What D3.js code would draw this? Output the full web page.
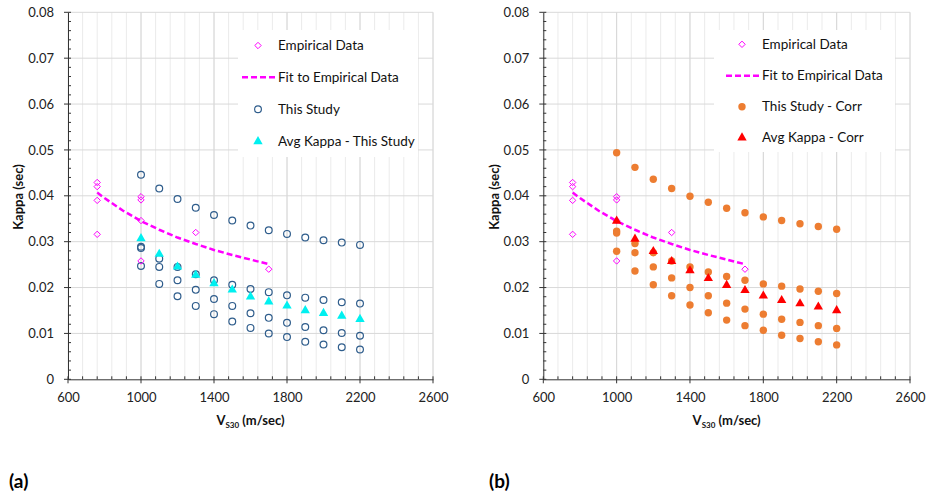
<!DOCTYPE html>
<html>
<head>
<meta charset="utf-8">
<script src="https://cdn.jsdelivr.net/npm/d3@7"></script>
<style>
  html, body { margin: 0; padding: 0; background: #fff; }
  svg { display: block; }
  text { font-family: Lato, "Open Sans", sans-serif; }
</style>
</head>
<body>
<svg id="chart" width="927" height="497"></svg>
<script>
// ---------- DATA ----------
const xTicks = [600, 1000, 1400, 1800, 2200, 2600];
const yTicks = [0, 0.01, 0.02, 0.03, 0.04, 0.05, 0.06, 0.07, 0.08];
const yTickLabels = ["0", "0.01", "0.02", "0.03", "0.04", "0.05", "0.06", "0.07", "0.08"];

// Empirical data (same in both panels)
const empiricalV = [760, 760, 760, 760, 1000, 1000, 1000, 1000, 1300, 1700];
const empiricalK = [0.0429, 0.0420, 0.0390, 0.0316, 0.0398, 0.0391, 0.0346, 0.0258, 0.0320, 0.0240];

// Fit to empirical data
const fitV = [760, 800, 900, 1000, 1100, 1200, 1300, 1400, 1500, 1600, 1700];
const fitK = [0.0407, 0.0395, 0.0368, 0.0345, 0.0326, 0.0309, 0.0295, 0.0282, 0.0271, 0.0261, 0.0251];

// Velocities used by this study
const studyV = [1000, 1100, 1200, 1300, 1400, 1500, 1600, 1700, 1800, 1900, 2000, 2100, 2200];

// (a) This Study: four kappa estimates per velocity
const studyK1 = [0.0446, 0.0416, 0.0393, 0.0374, 0.0358, 0.0346, 0.0335, 0.0325, 0.0317, 0.0309, 0.0303, 0.0298, 0.0293];
const studyK2 = [0.0289, 0.0263, 0.0245, 0.0229, 0.0216, 0.0206, 0.0197, 0.0190, 0.0183, 0.0178, 0.0173, 0.0168, 0.0165];
const studyK3 = [0.0286, 0.0245, 0.0216, 0.0195, 0.0175, 0.0160, 0.0144, 0.0134, 0.0123, 0.0114, 0.0107, 0.0101, 0.0095];
const studyK4 = [0.0247, 0.0208, 0.0181, 0.0160, 0.0142, 0.0126, 0.0112, 0.0100, 0.0092, 0.0082, 0.0076, 0.0070, 0.0065];
// (a) Avg Kappa - This Study
const avgK = [0.0307, 0.0273, 0.0245, 0.0227, 0.0209, 0.0195, 0.0180, 0.0169, 0.0160, 0.0150, 0.0144, 0.0138, 0.0131];

// (b) This Study - Corr
const corrK1 = [0.0494, 0.0462, 0.0436, 0.0416, 0.0399, 0.0386, 0.0373, 0.0363, 0.0354, 0.0346, 0.0339, 0.0333, 0.0327];
const corrK2 = [0.0323, 0.0296, 0.0276, 0.0258, 0.0245, 0.0234, 0.0224, 0.0216, 0.0208, 0.0203, 0.0197, 0.0192, 0.0187];
const corrK3 = [0.0319, 0.0276, 0.0245, 0.0221, 0.0200, 0.0182, 0.0166, 0.0153, 0.0142, 0.0131, 0.0124, 0.0117, 0.0111];
const corrK4 = [0.0279, 0.0236, 0.0206, 0.0182, 0.0162, 0.0145, 0.0129, 0.0117, 0.0107, 0.0096, 0.0089, 0.0082, 0.0075];
// (b) Avg Kappa - Corr
const avgCorrK = [0.0345, 0.0306, 0.0279, 0.0257, 0.0237, 0.0220, 0.0205, 0.0194, 0.0182, 0.0172, 0.0165, 0.0158, 0.0150];

const legendA = ["Empirical Data", "Fit to Empirical Data", "This Study", "Avg Kappa - This Study"];
const legendB = ["Empirical Data", "Fit to Empirical Data", "This Study - Corr", "Avg Kappa - Corr"];

// ---------- DRAW ----------
const svg = d3.select("#chart");
const MAG = "#ff00ff", BLUE = "#2f5d8c", CYAN = "#00f0f0", ORANGE = "#ed7d31", RED = "#ff0000";

function diamondPath(r) {
  return `M0,${-r}L${r},0L0,${r}L${-r},0Z`;
}
const triPath = d3.symbol().type(d3.symbolTriangle).size(38)();

function panel(opt) {
  const x = d3.scaleLinear().domain([600, 2600]).range(opt.xr);
  const y = d3.scaleLinear().domain([0, 0.08]).range([379.3, 12.3]);
  const g = svg.append("g");

  // minor vertical grid (every 80)
  const minorX = d3.range(600, 2600.1, 80);
  g.selectAll(".mgx").data(minorX).enter().append("line")
    .attr("x1", d => x(d)).attr("x2", d => x(d))
    .attr("y1", y(0)).attr("y2", y(0.08))
    .attr("stroke", "#ebebeb").attr("stroke-width", 1);
  // major vertical grid
  g.selectAll(".gx").data(xTicks.slice(1)).enter().append("line")
    .attr("x1", d => x(d)).attr("x2", d => x(d))
    .attr("y1", y(0)).attr("y2", y(0.08))
    .attr("stroke", "#d6d6d6").attr("stroke-width", 1);
  // major horizontal grid
  g.selectAll(".gy").data(yTicks.slice(1)).enter().append("line")
    .attr("x1", x(600)).attr("x2", x(2600))
    .attr("y1", d => y(d)).attr("y2", d => y(d))
    .attr("stroke", "#d9d9d9").attr("stroke-width", 1);

  // axes
  const axisCol = "#333";
  const xAxis = d3.axisBottom(x).tickValues(xTicks).tickSize(0).tickFormat(d3.format("d")).tickPadding(13);
  const xa = g.append("g").attr("transform", `translate(0,${y(0)})`).call(xAxis);
  xa.select(".domain").attr("stroke", axisCol);
  xa.selectAll("text").attr("font-size", 13).attr("fill", "#222").attr("font-family", "Lato, sans-serif");
  const yAxis = d3.axisLeft(y).tickValues(yTicks).tickSize(0).tickFormat((d, i) => yTickLabels[i]).tickPadding(14);
  const ya = g.append("g").attr("transform", `translate(${x(600)},0)`).call(yAxis);
  ya.select(".domain").attr("stroke", axisCol);
  ya.selectAll("text").attr("font-size", 13).attr("fill", "#222").attr("font-family", "Lato, sans-serif");

  // ticks
  g.selectAll(".tx").data(xTicks).enter().append("line")
    .attr("x1", d => x(d)).attr("x2", d => x(d))
    .attr("y1", y(0) - 3).attr("y2", y(0) + 4).attr("stroke", axisCol);
  g.selectAll(".mtx").data(minorX.filter(v => (v - 600) % 400 !== 0)).enter().append("line")
    .attr("x1", d => x(d)).attr("x2", d => x(d))
    .attr("y1", y(0) - 3).attr("y2", y(0)).attr("stroke", axisCol);
  g.selectAll(".ty").data(yTicks).enter().append("line")
    .attr("x1", x(600) - 4).attr("x2", x(600) + 3)
    .attr("y1", d => y(d)).attr("y2", d => y(d)).attr("stroke", axisCol);
  const minorY = d3.range(0, 0.0801, 0.002).filter((v, i) => i % 5 !== 0);
  g.selectAll(".mty").data(minorY).enter().append("line")
    .attr("x1", x(600)).attr("x2", x(600) + 3)
    .attr("y1", d => y(d)).attr("y2", d => y(d)).attr("stroke", axisCol);

  // axis titles
  const xt = g.append("text").attr("x", (x(600) + x(2600)) / 2).attr("y", 425)
    .attr("text-anchor", "middle").attr("font-weight", "bold").attr("font-size", 13).attr("fill", "#111");
  xt.append("tspan").text("V");
  xt.append("tspan").text("S30").attr("font-size", 8).attr("dy", 3);
  xt.append("tspan").text(" (m/sec)").attr("dy", -3);
  g.append("text").attr("transform", `translate(${opt.ytx},197) rotate(-90)`)
    .attr("text-anchor", "middle").attr("dy", "0.35em").attr("font-weight", "bold")
    .attr("font-size", 13).attr("fill", "#111").text("Kappa (sec)");

  // fit line
  const line = d3.line().x((d, i) => x(fitV[i])).y(d => y(d));
  g.append("path").datum(fitK).attr("d", line).attr("fill", "none")
    .attr("stroke", MAG).attr("stroke-width", 2.5).attr("stroke-dasharray", "6,3");

  // study points
  opt.studySeries.forEach(series => {
    g.selectAll(null).data(series).enter().append("circle")
      .attr("cx", (d, i) => x(studyV[i])).attr("cy", d => y(d))
      .attr("r", opt.filled ? 3.7 : 3.4)
      .attr("fill", opt.filled ? ORANGE : "none")
      .attr("stroke", opt.filled ? "none" : BLUE).attr("stroke-width", 1.2);
  });
  // empirical diamonds
  g.selectAll(null).data(empiricalK).enter().append("path")
    .attr("d", diamondPath(3.2))
    .attr("transform", (d, i) => `translate(${x(empiricalV[i])},${y(d)})`)
    .attr("fill", "none").attr("stroke", MAG).attr("stroke-width", 1);
  // average triangles
  g.selectAll(null).data(opt.avg).enter().append("path")
    .attr("d", triPath)
    .attr("transform", (d, i) => `translate(${x(studyV[i])},${y(d)})`)
    .attr("fill", opt.avgColor);

  // legend
  const L = opt.legend;
  g.append("rect").attr("x", L.x0).attr("y", 30).attr("width", L.x1 - L.x0).attr("height", L.h)
    .attr("fill", "#fff");
  opt.legendNames.forEach((name, i) => {
    const cy = L.rows[i];
    if (i === 0) {
      g.append("path").attr("d", diamondPath(3.2)).attr("transform", `translate(${L.sx},${cy})`)
        .attr("fill", "none").attr("stroke", MAG).attr("stroke-width", 1);
    } else if (i === 1) {
      g.append("line").attr("x1", L.sx - 16).attr("x2", L.tx - 2).attr("y1", cy).attr("y2", cy)
        .attr("stroke", MAG).attr("stroke-width", 2.5).attr("stroke-dasharray", "6,3");
    } else if (i === 2) {
      g.append("circle").attr("cx", L.sx).attr("cy", cy).attr("r", opt.filled ? 3.7 : 3.4)
        .attr("fill", opt.filled ? ORANGE : "none")
        .attr("stroke", opt.filled ? "none" : BLUE).attr("stroke-width", 1.2);
    } else {
      g.append("path").attr("d", triPath).attr("transform", `translate(${L.sx},${cy})`)
        .attr("fill", opt.avgColor);
    }
    g.append("text").attr("x", L.tx).attr("y", cy).attr("dy", "0.35em")
      .attr("font-size", 13.5).attr("fill", "#111").text(name);
  });

  // panel label
  svg.append("text").attr("x", opt.labX).attr("y", 488).attr("font-family", "Liberation Sans, Arial, sans-serif")
    .attr("font-weight", "bold").attr("font-size", 19).attr("fill", "#000").text(opt.label);
}

panel({
  xr: [68, 433], ytx: 18,
  studySeries: [studyK1, studyK2, studyK3, studyK4], filled: false,
  avg: avgK, avgColor: CYAN,
  legend: { x0: 238, x1: 418, h: 127, sx: 258, tx: 278, rows: [45.5, 77.3, 109.3, 141.5] },
  legendNames: legendA, label: "(a)", labX: 9
});
panel({
  xr: [543.3, 910], ytx: 494,
  studySeries: [corrK1, corrK2, corrK3, corrK4], filled: true,
  avg: avgCorrK, avgColor: RED,
  legend: { x0: 714, x1: 895, h: 122, sx: 742, tx: 762, rows: [44.3, 75.7, 106.7, 137.7] },
  legendNames: legendB, label: "(b)", labX: 489
});
</script>
</body>
</html>
